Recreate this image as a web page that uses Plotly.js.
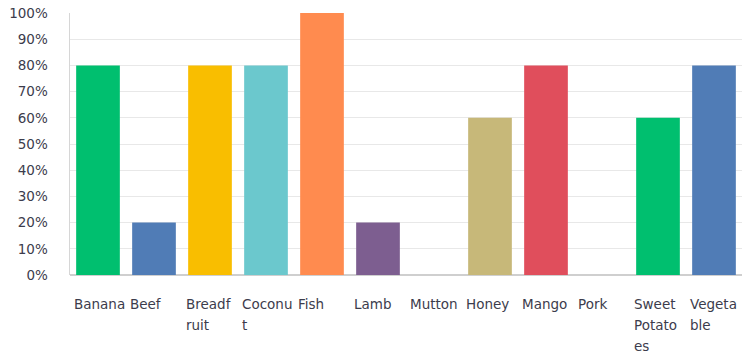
<!DOCTYPE html>
<html><head><meta charset="utf-8">
<script src="https://cdn.plot.ly/plotly-3.0.1.min.js"></script>
<style>html,body{margin:0;padding:0;background:#fff}#c{width:743px;height:356px}</style>
</head><body><div id="c"></div>
<script>
const categories = ["Banana","Beef","Breadfruit","Coconut","Fish","Lamb","Mutton","Honey","Mango","Pork","Sweet Potatoes","Vegetables"];
const labelLines = [["Banana"],["Beef"],["Breadf","ruit"],["Coconu","t"],["Fish"],["Lamb"],["Mutton"],["Honey"],["Mango"],["Pork"],["Sweet","Potato","es"],["Vegeta","ble"]];
const values = [0.80,0.20,0.80,0.80,1.00,0.20,0,0.60,0.80,0,0.60,0.80];
const colors = ["#00BF6F","#507CB6","#F9BE00","#6BC8CD","#FF8B4F","#7D5E90","#FFFFFF","#C7B879","#E04E5C","#FFFFFF","#00BF6F","#507CB6"];
const yTickVals = [0,0.1,0.2,0.3,0.4,0.5,0.6,0.7,0.8,0.9,1.0];
const yTickText = ["0%","10%","20%","30%","40%","50%","60%","70%","80%","90%","100%"];

const textColor = "#3c3c4c";
const fontFam = "'DejaVu Sans', sans-serif";
const bargap = 0.22;

const annotations = [];
labelLines.forEach((lines, i) => {
  lines.forEach((ln, j) => {
    annotations.push({
      x: i - (1 - bargap) / 2, xref: 'x', xanchor: 'left', xshift: -4,
      y: 0, yref: 'paper', yanchor: 'middle',
      yshift: -29 - j * 21,
      text: ln, showarrow: false,
      font: {family: fontFam, size: 13.5, color: textColor}
    });
  });
});

Plotly.newPlot('c', [{
  type: 'bar', x: categories.map((c, i) => i), y: values,
  marker: {color: colors},
  hoverinfo: 'skip'
}], {
  width: 743, height: 356,
  margin: {l: 70, r: 1, t: 13, b: 81},
  paper_bgcolor: '#fff', plot_bgcolor: '#fff',
  bargap: bargap,
  showlegend: false,
  xaxis: {
    type: 'linear', range: [-0.5, categories.length - 0.5],
    showticklabels: false, showgrid: false, zeroline: false,
    showline: false, ticks: ''
  },
  yaxis: {
    range: [0, 1.0], tickvals: yTickVals, ticktext: yTickText,
    showgrid: true, gridcolor: '#e8e8e8', gridwidth: 1,
    zeroline: true, zerolinecolor: '#cfcfcf', zerolinewidth: 1.5,
    showline: true, linecolor: '#d6d6d6', linewidth: 1.5,
    ticks: '', ticklabelstandoff: 18,
    tickfont: {family: fontFam, size: 13.5, color: textColor}
  },
  annotations: annotations
}, {displayModeBar: false, staticPlot: true});
</script></body></html>
